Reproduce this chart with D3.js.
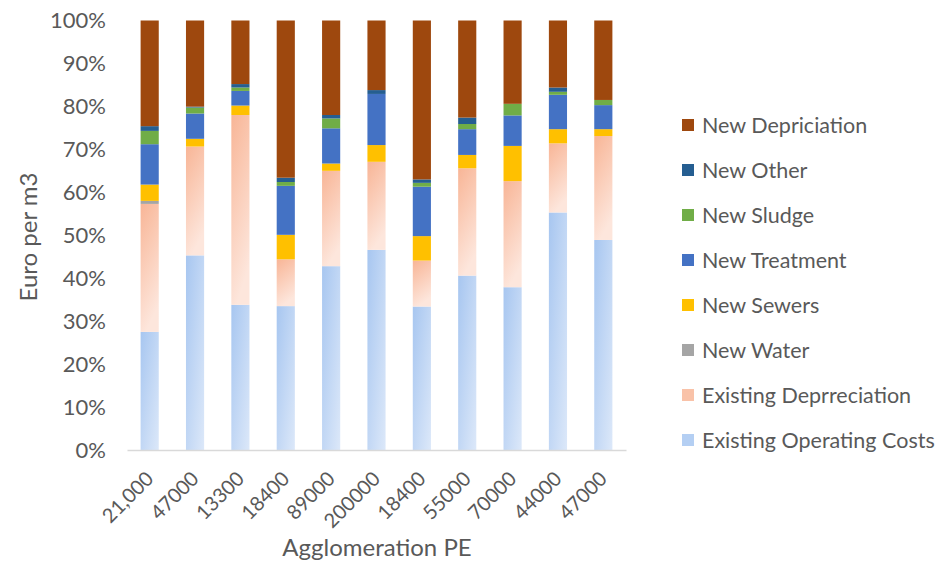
<!DOCTYPE html>
<html>
<head>
<meta charset="utf-8">
<script src="https://cdn.jsdelivr.net/npm/d3@7"></script>
<style>
  html, body { margin: 0; padding: 0; background: #fff; }
  svg { display: block; }
  text { font-family: Lato, "Open Sans", sans-serif; fill: #595959; }
</style>
</head>
<body>
<svg id="chart" width="949" height="570"></svg>
<script>
// ---- data ----
const categories = ["21,000", "47000", "13300", "18400", "89000", "200000", "18400", "55000", "70000", "44000", "47000"];
const seriesNames = ["Existing Operating Costs", "Existing Deprreciation", "New Water", "New Sewers", "New Treatment", "New Sludge", "New Other", "New Depriciation"];
const existingOperating = [27.5, 45.4, 33.8, 33.5, 42.8, 46.6, 33.4, 40.6, 37.9, 55.3, 48.9];
const existingDepreciation = [29.8, 25.4, 44.2, 10.9, 22.2, 20.5, 10.7, 25.0, 24.7, 16.1, 24.2];
const newWater = [0.7, 0, 0, 0, 0, 0, 0, 0, 0, 0, 0];
const newSewers = [3.8, 1.8, 2.2, 5.7, 1.7, 3.9, 5.7, 3.1, 8.2, 3.3, 1.6];
const newTreatment = [9.4, 5.9, 3.4, 11.4, 8.2, 11.9, 11.5, 6.0, 7.1, 8.0, 5.6];
const newSludge = [3.1, 1.4, 0.8, 0.9, 2.3, 0, 0.9, 1.2, 2.7, 0.7, 1.2];
const newOther = [1.1, 0.2, 0.8, 1.0, 0.8, 0.9, 0.8, 1.5, 0, 1.0, 0];
const newDepreciation = [24.6, 20.1, 14.8, 36.6, 22.0, 16.2, 37.0, 22.6, 19.4, 15.6, 18.5];
const yTicks = [0, 0.1, 0.2, 0.3, 0.4, 0.5, 0.6, 0.7, 0.8, 0.9, 1.0];
const yTitle = "Euro per m3";
const xTitle = "Agglomeration PE";

const seriesValues = [existingOperating, existingDepreciation, newWater, newSewers, newTreatment, newSludge, newOther, newDepreciation];
const fills = ["url(#gBlue)", "url(#gPink)", "#A5A5A5", "#FFC000", "#4472C4", "#70AD47", "#255E91", "#9E480E"];
const legendFills = ["#B4CFF3", "#F9C2A8", "#A5A5A5", "#FFC000", "#4472C4", "#70AD47", "#255E91", "#9E480E"];

// ---- build table ----
const table = categories.map((c, i) => {
  const row = { idx: i, cat: c };
  seriesNames.forEach((s, k) => { row[s] = seriesValues[k][i]; });
  return row;
});
// normalise each bar to 100%
table.forEach(r => {
  const tot = d3.sum(seriesNames, s => r[s]);
  seriesNames.forEach(s => { r[s] = r[s] / tot; });
});
const stacked = d3.stack().keys(seriesNames)(table);

const svg = d3.select("#chart");
const defs = svg.append("defs");
const gb = defs.append("linearGradient").attr("id", "gBlue").attr("x1", 0).attr("y1", 0).attr("x2", 1).attr("y2", 1);
gb.append("stop").attr("offset", "0%").attr("stop-color", "#A7C6F0");
gb.append("stop").attr("offset", "100%").attr("stop-color", "#DCE8F9");
const gp = defs.append("linearGradient").attr("id", "gPink").attr("x1", 0).attr("y1", 0).attr("x2", 0.3).attr("y2", 1);
gp.append("stop").attr("offset", "0%").attr("stop-color", "#F8B596");
gp.append("stop").attr("offset", "100%").attr("stop-color", "#FDE6DC");

const x = d3.scaleBand().domain(d3.range(categories.length)).range([127, 626]).paddingInner(0.6).paddingOuter(0.3);
const y = d3.scaleLinear().domain([0, 1]).range([450, 20.5]);

// bars
svg.append("g").selectAll("g").data(stacked).join("g")
  .attr("fill", (d, k) => fills[k])
  .selectAll("rect").data(d => d).join("rect")
  .attr("x", d => x(d.data.idx))
  .attr("width", x.bandwidth())
  .attr("y", d => y(d[1]))
  .attr("height", d => Math.max(0, y(d[0]) - y(d[1])));

// y axis
const yAxis = svg.append("g").attr("transform", "translate(127,0)")
  .call(d3.axisLeft(y).tickValues(yTicks).tickFormat(d3.format(".0%")).tickSize(0).tickPadding(21));
yAxis.select(".domain").remove();
yAxis.selectAll("text").style("font-size", "22px").attr("fill", "#595959");

// x axis
const xAxis = svg.append("g").attr("transform", "translate(0,450)")
  .call(d3.axisBottom(x).tickFormat(i => categories[i]).tickSize(0));
xAxis.select(".domain").attr("stroke", "#D9D9D9").attr("stroke-width", 1.3);
xAxis.selectAll("text")
  .style("font-size", "20px")
  .attr("fill", "#595959")
  .attr("text-anchor", "end")
  .attr("y", 0)
  .attr("dy", 0)
  .attr("transform", "translate(5,30) rotate(-45)");

// axis titles
svg.append("text")
  .attr("transform", "translate(37,237) rotate(-90)")
  .attr("text-anchor", "middle")
  .style("font-size", "24px")
  .text(yTitle);
svg.append("text")
  .attr("x", 377).attr("y", 556)
  .attr("text-anchor", "middle")
  .style("font-size", "24px")
  .text(xTitle);

// legend
const legendOrder = d3.range(seriesNames.length).reverse();
const lg = svg.append("g").selectAll("g").data(legendOrder).join("g")
  .attr("transform", (k, j) => `translate(682,${125 + j * 45})`);
lg.append("rect").attr("x", 0).attr("y", -6).attr("width", 12).attr("height", 12)
  .attr("fill", k => legendFills[k]);
lg.append("text").attr("x", 20).attr("dy", "0.35em").style("font-size", "21.5px")
  .text(k => seriesNames[k]);
</script>
</body>
</html>
